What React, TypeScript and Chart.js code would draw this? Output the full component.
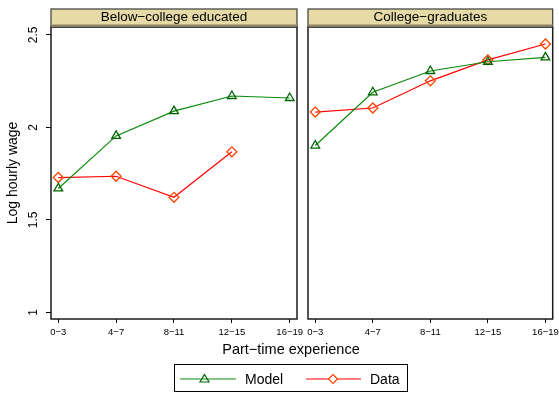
import React, { useEffect, useRef } from "react";
import { Chart, registerables } from "chart.js";

Chart.register(...registerables);

const categories = ["0\u22123", "4\u22127", "8\u221211", "12\u221215", "16\u221219"];
const yTicks = [1, 1.5, 2, 2.5];
const belowModel = [1.670, 1.954, 2.088, 2.170, 2.159];
const belowData = [1.729, 1.736, 1.622, 1.868];
const collegeModel = [1.902, 2.190, 2.305, 2.355, 2.379];
const collegeData = [2.083, 2.105, 2.252, 2.365, 2.451];

const FONT = "'Liberation Sans', Arial, Helvetica, sans-serif";
const X_MIN = -0.126;
const X_MAX = 4.126;
const Y_MIN = 0.964;
const Y_MAX = 2.543;
const GREEN = "#0a8a0a";
const GREEN_MK = "#006400";
const RED = "#ff0000";
const RED_MK = "#ff4500";

const framePlugin = {
  id: "frame",
  beforeDatasetsDraw(chart: any) {
    const { ctx, chartArea: a } = chart;
    ctx.save();
    ctx.strokeStyle = "#1a1a1a";
    ctx.lineWidth = 1.5;
    ctx.strokeRect(a.left, a.top, a.right - a.left, a.bottom - a.top);
    ctx.restore();
  },
};

const headerPlugin = {
  id: "header",
  afterDraw(chart: any, _args: any, opts: any) {
    const { ctx, chartArea: a } = chart;
    const top = 9;
    const bottom = a.top;
    ctx.save();
    ctx.fillStyle = "#e6dba6";
    ctx.fillRect(a.left, top, a.right - a.left, bottom - top);
    ctx.strokeStyle = "#3a3a3a";
    ctx.lineWidth = 1.2;
    ctx.strokeRect(a.left, top, a.right - a.left, bottom - top);
    ctx.fillStyle = "#8c8462";
    ctx.fillRect(a.left, bottom - 2.5, a.right - a.left, 2);
    ctx.fillStyle = "#000";
    ctx.font = `13.5px ${FONT}`;
    ctx.textAlign = "center";
    ctx.textBaseline = "middle";
    ctx.fillText(opts.text, (a.left + a.right) / 2, 17.5);
    ctx.restore();
  },
};

const yLabelPlugin = {
  id: "ylabels",
  afterDraw(chart: any, _args: any, opts: any) {
    if (!opts.show) return;
    const { ctx } = chart;
    const s = chart.scales.y;
    ctx.save();
    ctx.fillStyle = "#000";
    ctx.font = `12px ${FONT}`;
    ctx.textAlign = "center";
    ctx.textBaseline = "middle";
    s.ticks.forEach((t: any) => {
      const y = s.getPixelForValue(t.value);
      ctx.save();
      ctx.translate(34, y);
      ctx.rotate(-Math.PI / 2);
      ctx.fillText(String(t.value), 0, 0);
      ctx.restore();
    });
    ctx.restore();
  },
};

type PanelProps = {
  left: number;
  width: number;
  padLeft: number;
  padRight: number;
  title: string;
  model: number[];
  data: number[];
  showY: boolean;
};

function Panel({ left, width, padLeft, padRight, title, model, data, showY }: PanelProps) {
  const ref = useRef<HTMLCanvasElement | null>(null);
  useEffect(() => {
    if (!ref.current) return;
    const chart = new Chart(ref.current, {
      type: "line",
      data: {
        datasets: [
          {
            label: "Model",
            data: model.map((v, i) => ({ x: i, y: v })),
            borderColor: GREEN,
            borderWidth: 1.2,
            pointStyle: "triangle",
            pointRadius: 5,
            pointBorderColor: GREEN_MK,
            pointBackgroundColor: "rgba(0,0,0,0)",
            pointBorderWidth: 1.3,
            tension: 0,
          },
          {
            label: "Data",
            data: data.map((v, i) => ({ x: i, y: v })),
            borderColor: RED,
            borderWidth: 1.2,
            pointStyle: "rectRot",
            pointRadius: 5,
            pointBorderColor: RED_MK,
            pointBackgroundColor: "rgba(0,0,0,0)",
            pointBorderWidth: 1.3,
            tension: 0,
          },
        ],
      },
      options: {
        responsive: false,
        maintainAspectRatio: false,
        animation: false,
        events: [],
        layout: { padding: { left: padLeft, right: padRight, top: 27, bottom: 0 } },
        plugins: {
          legend: { display: false },
          tooltip: { enabled: false },
          header: { text: title },
          ylabels: { show: showY },
        } as any,
        scales: {
          x: {
            type: "linear",
            min: X_MIN,
            max: X_MAX,
            afterBuildTicks: (s: any) => {
              s.ticks = categories.map((_, i) => ({ value: i }));
            },
            afterFit: (s: any) => {
              s.height = 26;
              s.paddingLeft = 0;
              s.paddingRight = 0;
            },
            ticks: {
              callback: (v: any) => categories[Math.round(Number(v))],
              autoSkip: false,
              maxRotation: 0,
              minRotation: 0,
              padding: 4,
              color: "#000",
              font: { family: FONT, size: 9.5 },
            },
            grid: { drawOnChartArea: false, tickLength: 4, tickColor: "#000", color: "#000" },
            border: { display: false },
          },
          y: {
            type: "linear",
            min: Y_MIN,
            max: Y_MAX,
            display: showY,
            afterBuildTicks: (s: any) => {
              s.ticks = yTicks.map((v) => ({ value: v }));
            },
            afterFit: (s: any) => {
              if (!showY) {
                s.width = 0;
                return;
              }
              s.width = 51;
              s.paddingTop = 0;
              s.paddingBottom = 0;
            },
            ticks: { display: false },
            grid: { drawOnChartArea: false, tickLength: 5, tickColor: "#000", color: "#000" },
            border: { display: false },
            title: {
              display: true,
              text: "Log hourly wage",
              color: "#000",
              font: { family: FONT, size: 14 },
              padding: { top: 5, bottom: 0 },
            },
          },
        },
      } as any,
      plugins: [framePlugin, headerPlugin, yLabelPlugin],
    });
    return () => chart.destroy();
  }, []);
  return (
    <canvas
      ref={ref}
      width={width}
      height={345}
      style={{ position: "absolute", left, top: 0, width, height: 345 }}
    />
  );
}

export default function App() {
  return (
    <div
      style={{
        position: "absolute",
        left: 0,
        top: 0,
        width: 559,
        height: 394,
        background: "#fff",
        overflow: "hidden",
        fontFamily: FONT,
      }}
    >
      <Panel
        left={0}
        width={306}
        padLeft={0}
        padRight={9}
        title={"Below\u2212college educated"}
        model={belowModel}
        data={belowData}
        showY={true}
      />
      <Panel
        left={300}
        width={259}
        padLeft={8}
        padRight={4}
        title={"College\u2212graduates"}
        model={collegeModel}
        data={collegeData}
        showY={false}
      />
      <div
        style={{
          position: "absolute",
          left: 191,
          width: 200,
          top: 341,
          fontSize: 14.5,
          lineHeight: "17px",
          textAlign: "center",
          color: "#000",
          whiteSpace: "nowrap",
        }}
      >
        {"Part\u2212time experience"}
      </div>
      <div
        style={{
          position: "absolute",
          left: 174,
          top: 364,
          width: 234,
          height: 28,
          boxSizing: "border-box",
          border: "1px solid #000",
        }}
      >
        <svg width={232} height={26} style={{ position: "absolute", left: 0, top: 0 }}>
          <line x1={5} y1={14} x2={61} y2={14} stroke={GREEN} strokeWidth={1.2} />
          <polygon points="29.5,9.5 34,17 25,17" fill="none" stroke={GREEN_MK} strokeWidth={1.2} />
          <text x={70} y={19} fontSize={14} fontFamily={FONT} fill="#000">Model</text>
          <line x1={131} y1={14} x2={186} y2={14} stroke={RED} strokeWidth={1.2} />
          <polygon points="158,9.5 162.5,14 158,18.5 153.5,14" fill="#fff" stroke={RED_MK} strokeWidth={1.2} />
          <text x={195} y={19} fontSize={14} fontFamily={FONT} fill="#000">Data</text>
        </svg>
      </div>
    </div>
  );
}
